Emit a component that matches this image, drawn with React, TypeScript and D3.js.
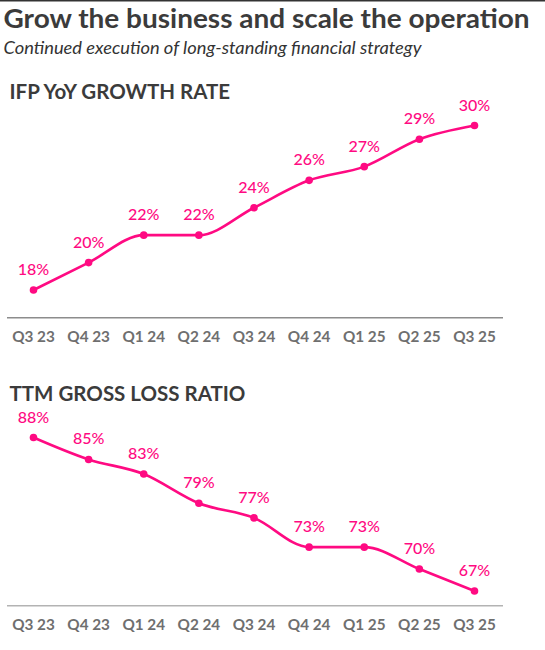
import React from "react";
import * as d3 from "d3";

const quarters = ["Q3 23", "Q4 23", "Q1 24", "Q2 24", "Q3 24", "Q4 24", "Q1 25", "Q2 25", "Q3 25"];
const growthRate = [18, 20, 22, 22, 24, 26, 27, 29, 30];
const grossLossRatio = [88, 85, 83, 79, 77, 73, 73, 70, 67];

const PINK = "#ff0a82";
const FONT = "Lato, 'Open Sans', sans-serif";

type PanelProps = {
  title: string;
  titleY: number;
  values: number[];
  yLow: number;
  yHigh: number;
  axisY: number;
  axisColor: string;
};

function Panel({ title, titleY, values, yLow, yHigh, axisY, axisColor }: PanelProps) {
  const x = d3.scalePoint<string>().domain(quarters).range([33.5, 474.5]);
  const ext = d3.extent(values) as [number, number];
  const y = d3.scaleLinear().domain(ext).range([yLow, yHigh]);
  const line = d3
    .line<number>()
    .x((_, i) => x(quarters[i]) as number)
    .y((d) => y(d))
    .curve(d3.curveMonotoneX);
  return (
    <g>
      <text x={9.5} y={titleY} fontFamily={FONT} fontWeight={700} fontSize={20.5} fill="#3b3b3b">
        {title}
      </text>
      <line x1={7} x2={503} y1={axisY} y2={axisY} stroke={axisColor} strokeWidth={1.6} />
      {quarters.map((q) => (
        <text
          key={q}
          x={x(q)}
          y={axisY + 24}
          textAnchor="middle"
          fontFamily={FONT}
          fontWeight={700}
          fontSize={15.3}
          fill="#6f6f6f"
        >
          {q}
        </text>
      ))}
      <path d={line(values) || ""} fill="none" stroke={PINK} strokeWidth={2.6} />
      {values.map((v, i) => (
        <g key={i}>
          <circle cx={x(quarters[i])} cy={y(v)} r={3.8} fill={PINK} />
          <text
            x={x(quarters[i])}
            y={y(v) - 15}
            textAnchor="middle"
            fontFamily={FONT}
            fontWeight={500}
            fontSize={16}
            fill={PINK}
          >
            {v}%
          </text>
        </g>
      ))}
    </g>
  );
}

export default function App() {
  return (
    <svg
      width={545}
      height={650}
      viewBox="0 0 545 650"
      style={{ position: "absolute", left: 0, top: 0, background: "#fff" }}
    >
      <rect x={0} y={0} width={545} height={650} fill="#fff" />
      <line x1={0} x2={545} y1={0.5} y2={0.5} stroke="#333" strokeWidth={2} />
      <text
        x={3.5}
        y={27.5}
        fontFamily={FONT}
        fontWeight={700}
        fontSize={26}
        fill="#3b3b3b"
        textLength={526}
        lengthAdjust="spacingAndGlyphs"
      >
        Grow the business and scale the operation
      </text>
      <text
        x={3.5}
        y={54.3}
        fontFamily={FONT}
        fontStyle="italic"
        fontSize={17.5}
        fill="#333"
        textLength={418}
        lengthAdjust="spacingAndGlyphs"
      >
        Continued execution of long-standing financial strategy
      </text>
      <Panel
        title="IFP YoY GROWTH RATE"
        titleY={98.5}
        values={growthRate}
        yLow={290}
        yHigh={125.5}
        axisY={317.7}
        axisColor="#8c8c8c"
      />
      <Panel
        title="TTM GROSS LOSS RATIO"
        titleY={400.7}
        values={grossLossRatio}
        yLow={591}
        yHigh={437.5}
        axisY={605.7}
        axisColor="#b3b3b3"
      />
    </svg>
  );
}
